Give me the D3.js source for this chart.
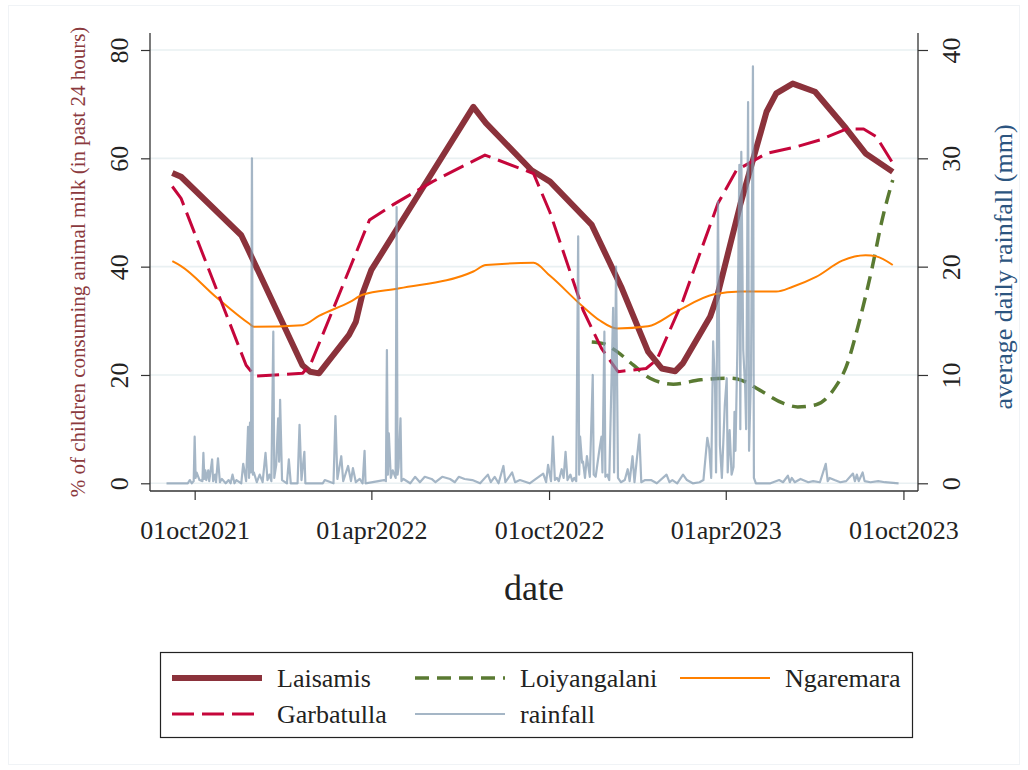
<!DOCTYPE html>
<html>
<head>
<meta charset="utf-8">
<script src="https://cdn.jsdelivr.net/npm/d3@7"></script>
<style>
  html, body { margin: 0; padding: 0; background: #ffffff; }
  svg { display: block; }
  text { font-family: "Liberation Serif", "Times New Roman", serif; }
</style>
</head>
<body>
<svg id="chart" width="1028" height="770"></svg>
<script>
// Share of children who consumed animal milk in the past 24 hours, by site (left axis, %)
const laisamis = [
  ["2021-09-08",57.3],["2021-09-17",56.6],["2021-11-18",45.8],["2021-11-26",42.8],
  ["2022-01-20",21.8],["2022-01-28",20.6],["2022-02-06",20.3],["2022-03-09",27.4],
  ["2022-03-16",29.8],["2022-03-23",35.1],["2022-04-01",39.4],["2022-07-15",69.5],
  ["2022-07-28",66.5],["2022-09-13",57.8],["2022-10-02",55.7],["2022-11-14",47.7],
  ["2022-12-15",36.0],["2023-01-11",24.3],["2023-01-25",21.2],["2023-02-08",20.7],
  ["2023-02-16",22.2],["2023-03-16",30.8],["2023-03-23",34.4],["2023-04-16",51.5],
  ["2023-04-29",59.7],["2023-05-13",68.6],["2023-05-23",72.0],["2023-06-09",73.8],
  ["2023-07-02",72.3],["2023-08-03",65.5],["2023-08-23",60.9],["2023-09-20",57.5]
];
const garbatulla = [
  ["2021-09-08",54.8],["2021-09-17",52.6],["2021-11-23",21.8],["2021-12-02",19.8],
  ["2022-01-20",20.3],["2022-01-28",21.8],["2022-03-10",39.8],["2022-03-30",48.6],
  ["2022-04-23",51.4],["2022-06-03",55.7],["2022-07-27",60.6],["2022-09-15",57.2],
  ["2022-10-02",50.0],["2022-11-05",32.0],["2022-11-24",24.9],["2022-12-11",20.6],
  ["2023-01-09",21.2],["2023-01-20",22.8],["2023-02-16",33.8],["2023-03-24",51.7],
  ["2023-04-12",57.8],["2023-05-13",60.9],["2023-06-12",62.1],["2023-07-07",63.4],
  ["2023-08-03",65.4],["2023-08-21",65.4],["2023-09-03",64.0],["2023-09-20",59.1]
];
const loiyangalani = [
  ["2022-11-14",26.1],["2022-11-26",25.8],["2022-12-10",24.3],["2022-12-27",21.8],
  ["2023-01-13",19.4],["2023-02-06",18.3],["2023-03-06",19.1],["2023-04-05",19.4],
  ["2023-04-16",19.1],["2023-05-06",17.2],["2023-05-30",14.8],["2023-06-14",14.1],
  ["2023-07-03",14.5],["2023-07-23",17.8],["2023-08-03",21.5],["2023-08-16",29.5],
  ["2023-08-30",40.0],["2023-09-09",48.6],["2023-09-20",56.0]
];
const ngaremara = [
  ["2021-09-08",41.0],["2021-09-17",40.1],["2021-10-23",34.4],["2021-11-26",29.5],
  ["2021-12-01",28.9],["2022-01-20",29.2],["2022-02-06",30.9],["2022-03-10",33.5],
  ["2022-03-23",34.8],["2022-04-30",36.0],["2022-07-15",39.1],["2022-07-28",40.3],
  ["2022-09-15",40.7],["2022-10-02",38.3],["2022-11-05",32.6],["2022-11-22",30.1],
  ["2022-12-10",28.6],["2023-01-11",29.0],["2023-02-09",31.7],["2023-03-20",34.9],
  ["2023-04-16",35.4],["2023-05-23",35.4],["2023-06-09",36.3],["2023-07-03",38.1],
  ["2023-07-30",41.1],["2023-08-23",42.1],["2023-09-03",41.9],["2023-09-20",40.3]
];

// Average daily rainfall (right axis, mm)
const rainfall = [
  ["2021-09-02",0],["2021-09-24",0],["2021-09-26",0.3],["2021-09-28",0],["2021-09-30",0.2],
  ["2021-10-01",4.3],["2021-10-02",0.5],["2021-10-03",1.0],["2021-10-06",0.3],["2021-10-09",0.2],
  ["2021-10-10",2.8],["2021-10-11",0.4],["2021-10-12",1.2],["2021-10-13",0.3],["2021-10-15",1.2],
  ["2021-10-16",0.2],["2021-10-19",2.2],["2021-10-20",0.2],["2021-10-22",0.8],["2021-10-23",0.1],
  ["2021-10-25",2.3],["2021-10-27",0.1],["2021-10-29",0.4],["2021-11-02",0],["2021-11-05",0.3],
  ["2021-11-07",0],["2021-11-09",0.8],["2021-11-11",0],["2021-11-13",0.3],["2021-11-18",0],
  ["2021-11-20",1.8],["2021-11-23",0.2],["2021-11-25",5.2],["2021-11-26",0.5],["2021-11-27",5.6],
  ["2021-11-28",1.0],["2021-11-29",30.0],["2021-11-30",0.8],["2021-12-01",1.0],["2021-12-04",0.1],
  ["2021-12-07",0.8],["2021-12-10",0.1],["2021-12-13",2.8],["2021-12-15",0.3],["2021-12-17",0.8],
  ["2021-12-19",0.2],["2021-12-21",14.0],["2021-12-22",0.5],["2021-12-24",1.7],["2021-12-26",6.0],
  ["2021-12-27",2.0],["2021-12-28",7.7],["2021-12-30",0.3],["2022-01-04",0],["2022-01-06",2.2],
  ["2022-01-08",0],["2022-01-15",0],["2022-01-17",5.4],["2022-01-19",0.3],["2022-01-22",2.9],
  ["2022-01-23",0],["2022-02-10",0],["2022-02-12",0.3],["2022-02-21",0],["2022-02-23",6.2],
  ["2022-02-25",0.4],["2022-03-01",2.5],["2022-03-03",0.2],["2022-03-08",1.6],["2022-03-11",0.2],
  ["2022-03-13",1.4],["2022-03-16",0.1],["2022-03-20",0.4],["2022-03-23",0],["2022-03-25",3.0],
  ["2022-03-26",0],["2022-04-14",0.3],["2022-04-16",0.2],["2022-04-17",12.3],["2022-04-18",0.8],
  ["2022-04-19",4.6],["2022-04-21",0.5],["2022-04-23",1.2],["2022-04-26",0.5],["2022-04-27",25.5],
  ["2022-04-28",0.8],["2022-04-29",1.5],["2022-05-01",6.0],["2022-05-02",0.2],["2022-05-04",0.4],
  ["2022-05-11",0],["2022-05-16",0.6],["2022-05-21",0.1],["2022-05-26",0.6],["2022-06-02",0.4],
  ["2022-06-06",0.1],["2022-06-13",0.6],["2022-06-21",0.4],["2022-06-26",0.1],["2022-06-30",0.6],
  ["2022-07-06",0.4],["2022-07-14",0.3],["2022-07-22",0],["2022-07-30",0.8],["2022-08-02",0.1],
  ["2022-08-06",0.6],["2022-08-10",0],["2022-08-15",1.6],["2022-08-17",0.1],["2022-08-24",1.0],
  ["2022-08-27",0.1],["2022-09-01",0.3],["2022-09-11",0],["2022-09-25",0.9],["2022-09-28",0.1],
  ["2022-09-30",1.7],["2022-10-03",0.2],["2022-10-05",4.3],["2022-10-07",0.3],["2022-10-09",0.5],
  ["2022-10-11",0.2],["2022-10-14",1.3],["2022-10-16",0.5],["2022-10-18",2.9],["2022-10-20",0.3],
  ["2022-10-23",0.8],["2022-10-25",0.2],["2022-10-27",0.5],["2022-10-29",0.2],["2022-10-31",22.8],
  ["2022-11-01",0.8],["2022-11-02",4.3],["2022-11-04",1.9],["2022-11-05",2.0],["2022-11-07",0.5],
  ["2022-11-09",2.5],["2022-11-12",0.6],["2022-11-15",10.0],["2022-11-16",0.8],["2022-11-18",0.6],
  ["2022-11-22",3.2],["2022-11-24",4.3],["2022-11-25",1.0],["2022-11-27",14.0],["2022-11-28",0.6],
  ["2022-11-30",0.8],["2022-12-02",0.3],["2022-12-06",16.2],["2022-12-07",1.0],["2022-12-09",20.0],
  ["2022-12-11",0.5],["2022-12-14",0.1],["2022-12-18",0.3],["2022-12-21",1.3],["2022-12-23",0.2],
  ["2022-12-26",2.5],["2022-12-28",0.1],["2023-01-02",4.5],["2023-01-04",0.1],["2023-01-08",0.3],
  ["2023-01-14",0.3],["2023-01-20",0],["2023-01-30",0.8],["2023-02-02",0.1],["2023-02-05",0.3],
  ["2023-02-10",0],["2023-02-16",0.8],["2023-02-20",0.3],["2023-02-26",0],["2023-03-05",0.1],
  ["2023-03-09",0.3],["2023-03-13",4.2],["2023-03-15",3.2],["2023-03-17",0.5],["2023-03-19",13.1],
  ["2023-03-21",8.8],["2023-03-22",1.0],["2023-03-24",26.0],["2023-03-26",3.5],["2023-03-28",0.5],
  ["2023-03-31",7.2],["2023-04-02",9.7],["2023-04-03",1.0],["2023-04-05",4.9],["2023-04-07",0.8],
  ["2023-04-09",1.5],["2023-04-10",6.6],["2023-04-11",3.0],["2023-04-13",12.5],["2023-04-15",29.4],
  ["2023-04-16",5.0],["2023-04-17",30.6],["2023-04-19",12.3],["2023-04-21",8.8],["2023-04-22",5.0],
  ["2023-04-24",35.2],["2023-04-25",3.0],["2023-04-27",10.0],["2023-04-29",38.5],["2023-04-30",0.5],
  ["2023-05-02",0],["2023-05-17",0],["2023-05-26",0.3],["2023-05-30",0.1],["2023-06-04",0.7],
  ["2023-06-06",0.1],["2023-06-08",0.5],["2023-06-11",0.1],["2023-06-17",0.4],["2023-06-25",0.1],
  ["2023-06-30",0.2],["2023-07-07",0.1],["2023-07-13",1.8],["2023-07-15",0.2],["2023-07-17",0.5],
  ["2023-07-22",0.3],["2023-07-28",0.1],["2023-08-03",0.2],["2023-08-10",0.9],["2023-08-12",0.2],
  ["2023-08-14",0.8],["2023-08-16",0.2],["2023-08-20",1.0],["2023-08-22",0.2],["2023-08-28",0.1],
  ["2023-09-05",0.2],["2023-09-12",0.1],["2023-09-26",0]
];

// Axis ticks
const xTicks = ["2021-10-01","2022-04-01","2022-10-01","2023-04-01","2023-10-01"];
const leftTicks = [0, 20, 40, 60, 80];
const rightTicks = [0, 10, 20, 30, 40];

const svg = d3.select("#chart");
const parse = d3.utcParse("%Y-%m-%d");
const fmt = d3.utcFormat("%d%b%Y");

const plot = { left: 150, right: 918, top: 33, bottom: 491 };
const x = d3.scaleUtc()
  .domain([parse("2021-08-16"), parse("2023-10-16")])
  .range([plot.left, plot.right]);
const yL = d3.scaleLinear().domain([0, 80]).range([483.3, 50]);
const yR = d3.scaleLinear().domain([0, 40]).range([483.3, 50]);

const FONT = '"Liberation Serif", "Times New Roman", serif';
const colors = {
  laisamis: "#8b323b",
  garbatulla: "#c5063b",
  loiyangalani: "#5a7a32",
  ngaremara: "#ff8000",
  rainfall: "#7f97ae"
};

// faint outer frame
svg.append("rect")
  .attr("x", 8.5).attr("y", 5.5).attr("width", 1011).attr("height", 759)
  .attr("fill", "none").attr("stroke", "#f0f3f6").attr("stroke-width", 1);

// gridlines
svg.append("g").selectAll("line").data(leftTicks).join("line")
  .attr("x1", plot.left).attr("x2", plot.right)
  .attr("y1", d => yL(d)).attr("y2", d => yL(d))
  .attr("stroke", "#e9f0f2").attr("stroke-width", 1.6);

// series lines
function drawSeries(data, yScale, style, curve) {
  const line = d3.line()
    .x(d => x(parse(d[0])))
    .y(d => yScale(d[1]))
    .curve(curve || d3.curveLinear);
  const p = svg.append("path")
    .datum(data)
    .attr("d", line)
    .attr("fill", "none")
    .attr("stroke", style.color)
    .attr("stroke-width", style.width)
    .attr("stroke-linejoin", "round");
  if (style.dash) p.attr("stroke-dasharray", style.dash);
  if (style.opacity) p.attr("stroke-opacity", style.opacity);
  return p;
}

const styles = {
  laisamis: { color: colors.laisamis, width: 6 },
  garbatulla: { color: colors.garbatulla, width: 3, dash: "22,8" },
  loiyangalani: { color: colors.loiyangalani, width: 3.5, dash: "14,8" },
  ngaremara: { color: colors.ngaremara, width: 2 },
  rainfall: { color: colors.rainfall, width: 2.2, opacity: 0.7 }
};

drawSeries(laisamis, yL, styles.laisamis);
drawSeries(loiyangalani, yL, styles.loiyangalani, d3.curveMonotoneX);
drawSeries(ngaremara, yL, styles.ngaremara, d3.curveMonotoneX);
drawSeries(garbatulla, yL, styles.garbatulla);
drawSeries(rainfall, yR, styles.rainfall);

// axes
const axisColor = "#333";
const tickFill = "#222";

function styleAxis(g) {
  g.select(".domain").remove();
  g.selectAll(".tick line").attr("stroke", axisColor).attr("stroke-width", 1.2);
  g.selectAll(".tick text").attr("fill", tickFill).attr("font-family", FONT).attr("font-size", 26);
}

// left axis
const gL = svg.append("g").attr("transform", `translate(${plot.left},0)`)
  .call(d3.axisLeft(yL).tickValues(leftTicks).tickSize(9).tickPadding(0).tickFormat(d3.format("d")));
styleAxis(gL);
gL.selectAll(".tick text")
  .attr("x", null).attr("dy", null)
  .attr("text-anchor", "middle")
  .attr("transform", "translate(-22,0) rotate(-90)");

// right axis
const gR = svg.append("g").attr("transform", `translate(${plot.right},0)`)
  .call(d3.axisRight(yR).tickValues(rightTicks).tickSize(10).tickPadding(0).tickFormat(d3.format("d")));
styleAxis(gR);
gR.selectAll(".tick text")
  .attr("x", null).attr("dy", null)
  .attr("text-anchor", "middle")
  .attr("transform", "translate(42,0) rotate(-90)");

// bottom axis
const gB = svg.append("g").attr("transform", `translate(0,${plot.bottom})`)
  .call(d3.axisBottom(x).tickValues(xTicks.map(parse)).tickSize(9).tickPadding(0)
    .tickFormat(d => fmt(d).toLowerCase()));
styleAxis(gB);
gB.selectAll(".tick text").attr("y", 48).attr("dy", null);

// axis lines
svg.append("line").attr("x1", plot.left).attr("x2", plot.left)
  .attr("y1", plot.top).attr("y2", plot.bottom)
  .attr("stroke", axisColor).attr("stroke-width", 1.3);
svg.append("line").attr("x1", plot.right).attr("x2", plot.right)
  .attr("y1", plot.top).attr("y2", plot.bottom)
  .attr("stroke", axisColor).attr("stroke-width", 1.3);
svg.append("line").attr("x1", plot.left).attr("x2", plot.right)
  .attr("y1", plot.bottom).attr("y2", plot.bottom)
  .attr("stroke", axisColor).attr("stroke-width", 1.3);

// axis titles
svg.append("text")
  .attr("transform", "translate(85,262) rotate(-90)")
  .attr("text-anchor", "middle")
  .attr("font-family", FONT).attr("font-size", 21)
  .attr("fill", "#8b3a3e")
  .text("% of children consuming animal milk (in past 24 hours)");

svg.append("text")
  .attr("transform", "translate(1012,267) rotate(-90)")
  .attr("text-anchor", "middle")
  .attr("font-family", FONT).attr("font-size", 26)
  .attr("fill", "#2c5580")
  .text("average daily rainfall (mm)");

svg.append("text")
  .attr("x", 534).attr("y", 600)
  .attr("text-anchor", "middle")
  .attr("font-family", FONT).attr("font-size", 36)
  .attr("fill", "#222")
  .text("date");

// legend
const legendItems = [
  { label: "Laisamis", key: "laisamis", col: 0, row: 0 },
  { label: "Loiyangalani", key: "loiyangalani", col: 1, row: 0 },
  { label: "Ngaremara", key: "ngaremara", col: 2, row: 0 },
  { label: "Garbatulla", key: "garbatulla", col: 0, row: 1 },
  { label: "rainfall", key: "rainfall", col: 1, row: 1 }
];
const legend = svg.append("g");
legend.append("rect")
  .attr("x", 160.5).attr("y", 652.5).attr("width", 752).attr("height", 85)
  .attr("fill", "#fff").attr("stroke", "#222").attr("stroke-width", 1.2);
const colX = [172, 415, 680];
const rowY = [678, 714];
legendItems.forEach(it => {
  const s = styles[it.key];
  const lx = colX[it.col], ly = rowY[it.row];
  const ln = legend.append("line")
    .attr("x1", lx).attr("x2", lx + 90).attr("y1", ly).attr("y2", ly)
    .attr("stroke", s.color).attr("stroke-width", s.width);
  if (s.dash) ln.attr("stroke-dasharray", s.dash);
  if (s.opacity) ln.attr("stroke-opacity", s.opacity);
  legend.append("text")
    .attr("x", lx + 105).attr("y", ly + 9)
    .attr("font-family", FONT).attr("font-size", 26)
    .attr("fill", "#222")
    .text(it.label);
});
</script>
</body>
</html>
